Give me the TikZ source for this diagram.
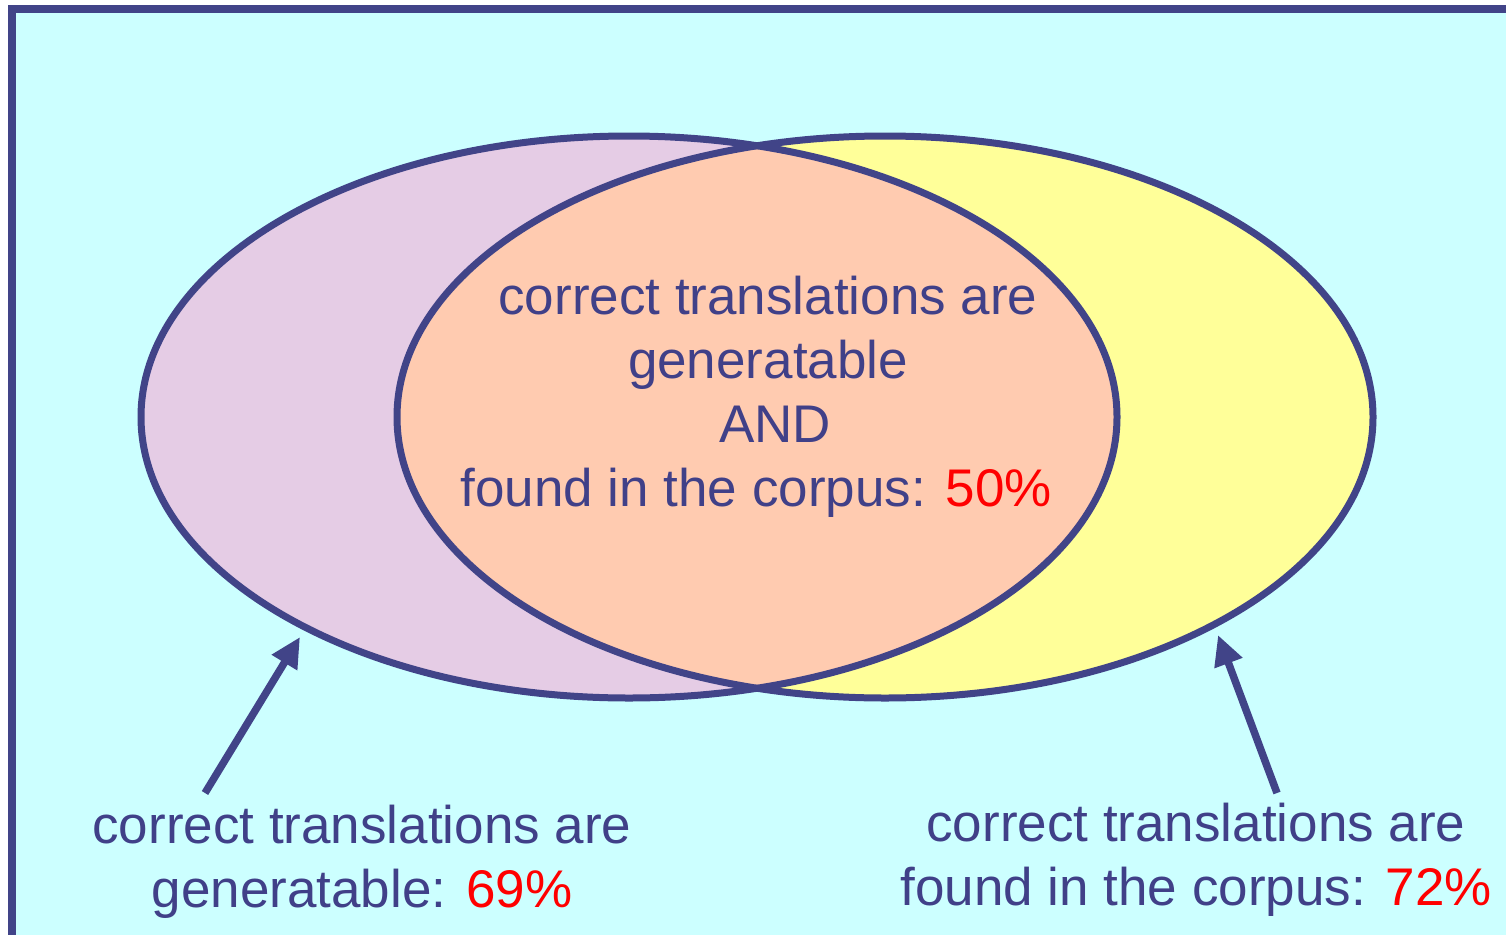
\documentclass[tikz,border=0pt]{standalone}
\usepackage{fontspec}
\setmainfont{Liberation Sans}
\usetikzlibrary{arrows.meta}
\definecolor{frameblue}{HTML}{414488}
\definecolor{textblue}{HTML}{404088}
\definecolor{bgcyan}{HTML}{CCFFFF}
\definecolor{lilac}{HTML}{E5CCE5}
\definecolor{lightyellow}{HTML}{FFFF99}
\definecolor{peach}{HTML}{FFCBB0}
\definecolor{pctred}{HTML}{FF0000}
\begin{document}
\begin{tikzpicture}[x=1pt,y=-1pt,
  outline/.style={draw=frameblue,line width=7pt},
  label/.style={text=textblue,font=\fontsize{53pt}{64pt}\selectfont,align=center,anchor=base,inner sep=0pt},
  pointer/.style={draw=frameblue,line width=7.5pt,-{Triangle[length=30pt,width=28pt]}}]
\useasboundingbox (0,0) rectangle (1506,934);
\fill[white] (0,0) rectangle (1506,934);
% slide background with its frame
\begin{scope}
  \clip (0,0) rectangle (1506,934);
  \draw[fill=bgcyan,draw=frameblue,line width=8pt] (12,9) rectangle (1530,960);
\end{scope}
% the two sets
\fill[lilac] (629,417) ellipse [x radius=488, y radius=281];
\fill[lightyellow] (885,417) ellipse [x radius=488, y radius=281];
\begin{scope}
  \clip (629,417) ellipse [x radius=488, y radius=281];
  \fill[peach] (885,417) ellipse [x radius=488, y radius=281];
\end{scope}
\path[outline] (629,417) ellipse [x radius=488, y radius=281];
\path[outline] (885,417) ellipse [x radius=488, y radius=281];
% texts (base anchor sits on the last line)
\node[label] (both) at (768,506) {correct translations are\\generatable\\\hspace*{14pt}AND\\found in the corpus: \textcolor{pctred}{50\%}\hspace*{24pt}};
\node[label] (gen) at (362,907) {correct translations are\\generatable: \textcolor{pctred}{69\%}};
\node[label] (found) at (1196,905) {correct translations are\\found in the corpus: \textcolor{pctred}{72\%}};
% pointers
\coordinate (genstart) at (205,793);
\coordinate (gentip) at (300,637);
\coordinate (foundstart) at (1277,793);
\coordinate (foundtip) at (1218,635);
\draw[pointer] (genstart) -- (gentip);
\draw[pointer] (foundstart) -- (foundtip);
\end{tikzpicture}
\end{document}
